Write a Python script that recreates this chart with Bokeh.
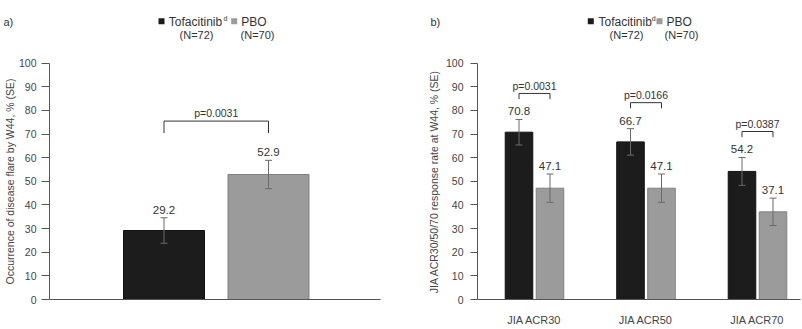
from bokeh.plotting import figure
from bokeh.layouts import row
from bokeh.models import Range1d, FixedTicker, ColumnDataSource, Whisker, TeeHead
from bokeh.embed import file_html
from bokeh.resources import INLINE
from bokeh.core.properties import value

# ---------------- data ----------------
flare_groups = ["Tofacitinib", "PBO"]
flare_pct = [29.2, 52.9]
flare_se = [5.4, 6.0]
flare_p = "p=0.0031"

acr_categories = ["JIA ACR30", "JIA ACR50", "JIA ACR70"]
tofa_pct = [70.8, 66.7, 54.2]
tofa_se = [5.4, 5.6, 5.9]
pbo_pct = [47.1, 47.1, 37.1]
pbo_se = [6.0, 6.0, 5.8]
acr_p = ["p=0.0031", "p=0.0166", "p=0.0387"]

legend_names = ["Tofacitinib", "PBO"]
legend_sup = "d"
legend_n = ["(N=72)", "(N=70)"]
y_ticks = list(range(0, 101, 10))
panel_tags = ["a)", "b)"]
ylabel_a = "Occurrence of disease flare by W44, % (SE)"
ylabel_b = "JIA ACR30/50/70 response rate at W44, % (SE)"

# ---------------- style / layout ----------------
FONT = "Liberation Sans"
BLACK = "#1c1c1c"
GRAY = "#9b9b9b"
GRAY_LINE = "#808080"
ERR = "#6a6a6a"
TXT = "#333333"
AX = "#555555"

H = 329
ZERO_PX = 299.0
PX_PER_UNIT = 236.3 / 100.0


def Y(py):
    return (ZERO_PX - py) / PX_PER_UNIT


# panel a: canvas x 0..400, axis at px 49, axis end at px 380
A_W = 400
A_AXIS, A_END = 49, 380
A_SCALE = 104.5


def XA(px):
    return 1 + (px - (A_AXIS + 114.5)) / A_SCALE


# panel b: canvas x 400..802, axis at px 477
B_W = 402
B_AXIS, B_END = 477, 800
B_SCALE = 111.5


def XB(px):
    return 1 + (px - (B_AXIS + 57.0)) / B_SCALE


def make_fig(canvas_x0, frame_w, X, axis_px, end_px, ylabel, tick_out, lab_standoff, axlab_standoff):
    p = figure(frame_width=frame_w, frame_height=H,
               min_border_left=0, min_border_right=0,
               min_border_top=0, min_border_bottom=0,
               x_range=Range1d(X(canvas_x0), X(canvas_x0 + frame_w)),
               y_range=Range1d(Y(H), Y(0)),
               output_backend="svg", toolbar_location=None)
    p.grid.visible = False
    p.outline_line_color = None
    p.background_fill_color = "white"
    p.border_fill_color = "white"
    ya = p.yaxis[0]
    ya.fixed_location = X(axis_px)
    ya.ticker = FixedTicker(ticks=y_ticks)
    ya.bounds = (0, 100)
    ya.minor_tick_line_color = None
    ya.major_tick_in = 0
    ya.major_tick_out = tick_out
    ya.major_tick_line_color = AX
    ya.axis_line_color = AX
    ya.major_label_text_font = FONT
    ya.major_label_text_font_size = "10.5px"
    ya.major_label_text_color = "#444444"
    ya.major_label_standoff = lab_standoff
    ya.axis_label = ylabel
    ya.axis_label_text_font = FONT
    ya.axis_label_text_font_size = "10.5px"
    ya.axis_label_text_font_style = "normal"
    ya.axis_label_text_color = "#444444"
    ya.axis_label_standoff = axlab_standoff
    xa = p.xaxis[0]
    xa.fixed_location = 0
    xa.bounds = (X(axis_px), X(end_px))
    xa.axis_line_color = AX
    xa.minor_tick_line_color = None
    xa.major_tick_line_color = None
    xa.major_label_text_font = FONT
    xa.major_label_text_font_size = "11px"
    xa.major_label_text_color = "#444444"
    return p


def add_legend(p, X, sq_left, text_dx, sup_dx, gsq_dx, pbo_dx, n1_dx, n2_dx):
    p.scatter(x=[X(sq_left + 3), X(sq_left + gsq_dx + 3)], y=[Y(20.8)] * 2,
              marker="square", size=6, fill_color=[BLACK, GRAY], line_color=None)
    p.text(x=[X(sq_left + text_dx), X(sq_left + pbo_dx)], y=[Y(21.5)] * 2, text=legend_names,
           text_font=value(FONT), text_font_size="12px", text_align="left",
           text_baseline="middle", text_color=TXT)
    p.text(x=[X(sq_left + sup_dx)], y=[Y(17.5)], text=[legend_sup],
           text_font=value(FONT), text_font_size="7px", text_align="left",
           text_baseline="middle", text_color=TXT)
    p.text(x=[X(sq_left + n1_dx), X(sq_left + n2_dx)], y=[Y(34.5)] * 2, text=legend_n,
           text_font=value(FONT), text_font_size="11px", text_align="center",
           text_baseline="middle", text_color=TXT)


def add_tag(p, X, text, px):
    p.text(x=[X(px)], y=[Y(21)], text=[text], text_font=value(FONT),
           text_font_size="11px", text_align="left", text_baseline="middle",
           text_color=TXT)


def add_whiskers(p, xs, vals, ses):
    src = ColumnDataSource(dict(x=xs,
                                upper=[v + s for v, s in zip(vals, ses)],
                                lower=[v - s for v, s in zip(vals, ses)]))
    p.add_layout(Whisker(base="x", upper="upper", lower="lower", source=src,
                         line_color=ERR, line_width=1, level="annotation",
                         upper_head=TeeHead(size=7, line_color=ERR, line_width=1),
                         lower_head=TeeHead(size=7, line_color=ERR, line_width=1)))
    p.text(x=xs, y=[v + s for v, s in zip(vals, ses)],
           text=["%.1f" % v for v in vals], text_font=value(FONT),
           text_font_size="11.5px", text_align="center", text_baseline="bottom",
           text_color=TXT, y_offset=-4)


# ---------------- panel a ----------------
pa = make_fig(0, A_W, XA, A_AXIS, A_END, ylabel_a, 8, 5, 0)
pa.xaxis[0].ticker = FixedTicker(ticks=[])
pa.xaxis[0].major_label_text_font_size = "0px"

xa_pos = [1, 2]
pa.vbar(x=xa_pos, top=flare_pct, width=0.775, bottom=0,
        fill_color=[BLACK, GRAY], line_color=["#111111", GRAY_LINE], line_width=1)
add_whiskers(pa, xa_pos, flare_pct, flare_se)
top_err_a = max(v + s for v, s in zip(flare_pct, flare_se))
br_bot = top_err_a + 11.5
br_top = br_bot + 5.1
pa.multi_line(xs=[[1, 1, 2, 2]], ys=[[br_bot, br_top, br_top, br_bot]],
              line_color="#333333", line_width=1)
pa.text(x=[1.5], y=[br_top + 0.8], text=[flare_p], text_font=value(FONT),
        text_font_size="10.5px", text_align="center", text_baseline="bottom",
        text_color=TXT)
add_legend(pa, XA, 158.0, 10.3, 65.0, 72.7, 82.7, 38.0, 99.0)
add_tag(pa, XA, panel_tags[0], 3)

# ---------------- panel b ----------------
pb = make_fig(400, B_W, XB, B_AXIS, B_END, ylabel_b, 7, 7, 3)
groups = [i + 1 for i in range(len(acr_categories))]
pb.xaxis[0].ticker = FixedTicker(ticks=groups)
pb.xaxis[0].major_label_overrides = {g: c for g, c in zip(groups, acr_categories)}
pb.xaxis[0].major_label_standoff = 8

OFF = 0.139
BW = 0.247
xt = [g - OFF for g in groups]
xp = [g + OFF for g in groups]
pb.vbar(x=xt, top=tofa_pct, width=BW, bottom=0, fill_color=BLACK, line_color="#111111")
pb.vbar(x=xp, top=pbo_pct, width=BW, bottom=0, fill_color=GRAY, line_color=GRAY_LINE)
add_whiskers(pb, xt + xp, tofa_pct + pbo_pct, tofa_se + pbo_se)

bx, by = [], []
ptx, pty = [], []
for g, v, s in zip(groups, tofa_pct, tofa_se):
    b0 = v + s + 8.6
    b1 = b0 + 2.4
    bx.append([g - OFF, g - OFF, g + OFF, g + OFF])
    by.append([b0, b1, b1, b0])
    ptx.append(g)
    pty.append(b1 + 0.6)
pb.multi_line(xs=bx, ys=by, line_color="#333333", line_width=1)
pb.text(x=ptx, y=pty, text=acr_p, text_font=value(FONT), text_font_size="10.5px",
        text_align="center", text_baseline="bottom", text_color=TXT)
add_legend(pb, XB, 587.3, 10.7, 64.0, 68.7, 78.7, 38.7, 93.7)
add_tag(pb, XB, panel_tags[1], 430)

layout = row(pa, pb)
open("out.html", "w").write(file_html(layout, INLINE))
